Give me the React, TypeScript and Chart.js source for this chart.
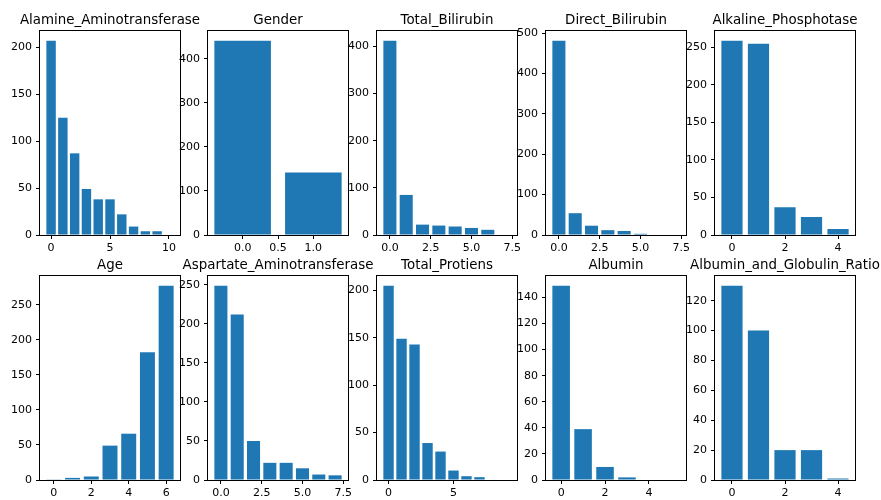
import React, { useEffect, useRef } from "react";
import { Chart, registerables } from "chart.js";

Chart.register(...registerables);

// ---------- data ----------
const titles = [
  "Alamine_Aminotransferase",
  "Gender",
  "Total_Bilirubin",
  "Direct_Bilirubin",
  "Alkaline_Phosphotase",
  "Age",
  "Aspartate_Aminotransferase",
  "Total_Protiens",
  "Albumin",
  "Albumin_and_Globulin_Ratio",
];

const alamineCounts = [207, 125, 87, 49, 38, 38, 22, 9, 4, 4, 0];
const genderCounts = [441, 142];
const totalBilirubinCounts = [412, 85, 22, 20, 18, 15, 11, 0];
const directBilirubinCounts = [481, 54, 23, 12, 10, 3, 0, 0];
const alkalineCounts = [259, 255, 37, 24, 8];
const ageCounts = [1, 3, 5, 49, 66, 182, 277];
const aspartateCounts = [249, 212, 50, 22, 22, 15, 7, 6];
const totalProtiensCounts = [205, 149, 143, 39, 30, 10, 4, 3, 0, 0];
const albuminCounts = [149, 39, 10, 2, 0, 0];
const agRatioCounts = [130, 100, 20, 20, 1];

const seriesList = [
  alamineCounts,
  genderCounts,
  totalBilirubinCounts,
  directBilirubinCounts,
  alkalineCounts,
  ageCounts,
  aspartateCounts,
  totalProtiensCounts,
  albuminCounts,
  agRatioCounts,
];

const xTickLabels = [
  ["0", "5", "10"],
  ["0.0", "0.5", "1.0"],
  ["0.0", "2.5", "5.0", "7.5"],
  ["0.0", "2.5", "5.0", "7.5"],
  ["0", "2", "4"],
  ["0", "2", "4", "6"],
  ["0.0", "2.5", "5.0", "7.5"],
  ["0", "5"],
  ["0", "2", "4"],
  ["0", "2", "4"],
];

const yTickLabels = [
  ["0", "50", "100", "150", "200"],
  ["0", "100", "200", "300", "400"],
  ["0", "100", "200", "300", "400"],
  ["0", "100", "200", "300", "400", "500"],
  ["0", "50", "100", "150", "200", "250"],
  ["0", "50", "100", "150", "200", "250"],
  ["0", "50", "100", "150", "200", "250"],
  ["0", "50", "100", "150", "200"],
  ["0", "20", "40", "60", "80", "100", "120", "140"],
  ["0", "20", "40", "60", "80", "100", "120"],
];

// ---------- layout ----------
const AX_LEFT = [40, 208, 377, 546, 715];
const AX_TOP = [31, 276];
const AX_W = 140;
const AX_H = 204;
const PAD_L = 48;
const PAD_T = 31;
const PAD_R = 40;
const BOT = 30;
const BAR_COLOR = "#1f77b4";
const FONT_FAMILY = "'DejaVu Sans', sans-serif";

const titlePlugin = {
  id: "panelTitle",
  afterDraw(chart: any, _args: any, opts: any) {
    const { ctx, chartArea } = chart;
    ctx.save();
    ctx.font = `13.4px ${FONT_FAMILY}`;
    ctx.fillStyle = "#000";
    ctx.textAlign = "center";
    ctx.textBaseline = "alphabetic";
    ctx.fillText(opts.text, (chartArea.left + chartArea.right) / 2, chartArea.top - 6.6);
    ctx.restore();
  },
};

const framePlugin = {
  id: "panelFrame",
  afterDatasetsDraw(chart: any) {
    const { ctx, chartArea } = chart;
    ctx.save();
    ctx.strokeStyle = "#000";
    ctx.lineWidth = 1;
    ctx.strokeRect(
      chartArea.left - 0.5,
      chartArea.top - 0.5,
      chartArea.right - chartArea.left + 1,
      chartArea.bottom - chartArea.top + 1
    );
    ctx.restore();
  },
};

function Panel({ idx }: { idx: number }) {
  const ref = useRef<HTMLCanvasElement | null>(null);
  const col = idx % 5;
  const row = Math.floor(idx / 5);
  const cw = PAD_L + AX_W + PAD_R;
  const ch = PAD_T + AX_H + BOT;

  useEffect(() => {
    if (!ref.current) return;
    const counts = seriesList[idx];
    const n = counts.length;
    const span = n - 1 + 0.8;
    const xmin = -0.4 - 0.05 * span;
    const xmax = n - 1 + 0.4 + 0.05 * span;
    const ymax = Math.max(...counts) * 1.05;
    const xLabels = xTickLabels[idx];
    const yLabels = yTickLabels[idx];
    const xVals = xLabels.map((s) => parseFloat(s));
    const yVals = yLabels.map((s) => parseFloat(s));
    let minGap = 1;
    for (let i = 1; i < xVals.length; i++) minGap = Math.min(minGap, xVals[i] - xVals[i - 1]);
    const barPct = 0.8 / minGap;
    const font = { family: FONT_FAMILY, size: 11 };

    const chart = new Chart(ref.current, {
      type: "bar",
      data: {
        datasets: [
          {
            data: counts.map((v, i) => ({ x: i, y: v })),
            backgroundColor: BAR_COLOR,
            borderWidth: 0,
            barPercentage: barPct,
            categoryPercentage: 1,
          },
        ],
      },
      options: {
        animation: false,
        responsive: false,
        devicePixelRatio: 1,
        layout: { padding: { left: 0, top: PAD_T, right: PAD_R, bottom: 0 } },
        plugins: {
          legend: { display: false },
          tooltip: { enabled: false },
          panelTitle: { text: titles[idx] },
        } as any,
        scales: {
          x: {
            type: "linear",
            min: xmin,
            max: xmax,
            offset: false,
            grid: {
              display: true,
              drawOnChartArea: false,
              drawTicks: true,
              tickLength: 4,
              color: "#000",
              offset: false,
            },
            border: { display: false },
            ticks: {
              autoSkip: false,
              maxRotation: 0,
              minRotation: 0,
              padding: 3,
              font,
              color: "#000",
              callback: (_v: any, i: number) => xLabels[i],
            },
            afterBuildTicks: (s: any) => {
              s.ticks = xVals.map((v) => ({ value: v }));
            },
            afterFit: (s: any) => {
              s.height = BOT;
            },
          },
          y: {
            type: "linear",
            min: 0,
            max: ymax,
            grid: {
              display: true,
              drawOnChartArea: false,
              drawTicks: true,
              tickLength: 4,
              color: "#000",
            },
            border: { display: false },
            ticks: {
              autoSkip: false,
              padding: 4,
              font,
              color: "#000",
              callback: (_v: any, i: number) => yLabels[i],
            },
            afterBuildTicks: (s: any) => {
              s.ticks = yVals.map((v) => ({ value: v }));
            },
            afterFit: (s: any) => {
              s.width = PAD_L;
            },
          },
        },
      } as any,
      plugins: [titlePlugin, framePlugin],
    });
    return () => chart.destroy();
  }, [idx]);

  return (
    <canvas
      ref={ref}
      width={cw}
      height={ch}
      style={{
        position: "absolute",
        left: AX_LEFT[col] - PAD_L,
        top: AX_TOP[row] - PAD_T,
        width: cw,
        height: ch,
      }}
    />
  );
}

export default function App() {
  return (
    <div
      style={{
        position: "absolute",
        left: 0,
        top: 0,
        width: 881,
        height: 500,
        overflow: "hidden",
        background: "#fff",
      }}
    >
      {titles.map((_t, i) => (
        <Panel key={i} idx={i} />
      ))}
    </div>
  );
}
